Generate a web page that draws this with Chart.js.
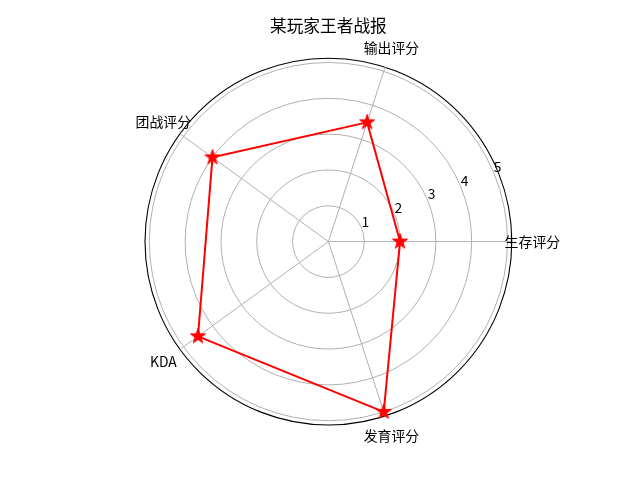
<!DOCTYPE html>
<html>
<head>
<meta charset="utf-8">
<script src="https://cdn.jsdelivr.net/npm/chart.js@4.4.1/dist/chart.umd.min.js"></script>
<style>
html,body{margin:0;padding:0;background:#fff;}
canvas{display:block;}
</style>
</head>
<body>
<canvas id="c" width="640" height="480"></canvas>
<script>
// ---- data ----
const titleText = '某玩家王者战报';
const categories = ['生存评分', '输出评分', '团战评分', 'KDA', '发育评分']; // counter-clockwise from the right
const scores = [2, 3.5, 4, 4.5, 5];
const radialTicks = [1, 2, 3, 4, 5];
const radialMax = 5.12;

// Chart.js goes clockwise, so reorder: first at right, then clockwise
const order = [0, 4, 3, 2, 1];
const cjLabels = order.map(i => categories[i]);
const cjValues = order.map(i => scores[i]);

const FONT = '"Noto Sans CJK SC", "DejaVu Sans", sans-serif';

function makeStar(R, color) {
  const c = document.createElement('canvas');
  const s = 20;
  c.width = s; c.height = s;
  const g = c.getContext('2d');
  const cx = s / 2, cy = s / 2;
  g.beginPath();
  for (let k = 0; k < 10; k++) {
    const r = k % 2 === 0 ? R : R * 0.381966;
    const a = -Math.PI / 2 + k * Math.PI / 5;
    g.lineTo(cx + r * Math.cos(a), cy + r * Math.sin(a));
  }
  g.closePath();
  g.fillStyle = color; g.fill();
  g.strokeStyle = color; g.lineWidth = 1; g.lineJoin = 'miter'; g.stroke();
  return c;
}
const star = makeStar(8, '#ff0000');

const textPlugin = {
  id: 'texts',
  afterDraw(chart) {
    const ctx = chart.ctx;
    const sc = chart.scales.r;
    ctx.save();
    ctx.fillStyle = '#000';
    // title
    ctx.font = '16.7px ' + FONT;
    ctx.textAlign = 'center';
    ctx.textBaseline = 'middle';
    ctx.fillText(titleText, sc.xCenter, 25.5);
    // category labels
    ctx.font = '13.9px ' + FONT;
    cjLabels.forEach((lab, i) => {
      const p = sc.getPointPosition(i, 204);
      ctx.fillText(lab, p.x, p.y);
    });
    // radial tick labels at 22.5 degrees
    ctx.textAlign = 'left';
    ctx.textBaseline = 'alphabetic';
    const a = 22.5 * Math.PI / 180;
    radialTicks.forEach(v => {
      const d = sc.getDistanceFromCenterForValue(v);
      const x = sc.xCenter + d * Math.cos(a);
      const y = sc.yCenter - d * Math.sin(a);
      ctx.fillText(String(v), x, y - 1);
    });
    ctx.restore();
  }
};

new Chart(document.getElementById('c'), {
  type: 'radar',
  data: {
    labels: cjLabels,
    datasets: [{
      data: cjValues,
      borderColor: '#ff0000',
      backgroundColor: 'rgba(0,0,0,0)',
      borderWidth: 2,
      fill: false,
      tension: 0,
      pointStyle: star,
      pointRadius: 8,
      pointHoverRadius: 8
    }]
  },
  options: {
    responsive: false,
    animation: false,
    devicePixelRatio: 1,
    plugins: { legend: { display: false }, title: { display: false }, tooltip: { enabled: false } },
    scales: {
      r: {
        min: 0,
        max: radialMax,
        startAngle: 90,
        ticks: { display: false, stepSize: 1 },
        pointLabels: { display: false },
        grid: {
          circular: true,
          color: (c) => (c.tick && c.tick.value > 5.05) ? '#000000' : '#b0b0b0',
          lineWidth: (c) => (c.tick && c.tick.value > 5.05) ? 1.1 : 1
        },
        angleLines: { color: '#b0b0b0', lineWidth: 1 },
        afterBuildTicks: (scale) => {
          scale.ticks = [0].concat(radialTicks, [radialMax]).map(v => ({ value: v }));
        },
        afterFit: (scale) => {
          scale.xCenter = 328.4;
          scale.yCenter = 241.6;
          scale.drawingArea = 183.4;
        }
      }
    }
  },
  plugins: [textPlugin]
});
</script>
</body>
</html>
